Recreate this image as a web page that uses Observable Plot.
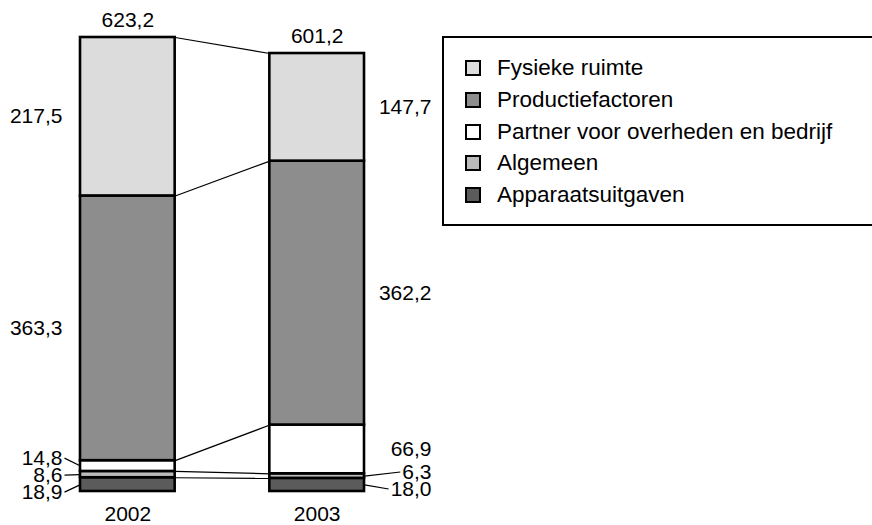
<!DOCTYPE html>
<html><head><meta charset="utf-8">
<script src="https://cdn.jsdelivr.net/npm/d3@7"></script>
<script src="https://cdn.jsdelivr.net/npm/@observablehq/plot@0.6"></script>
<style>
body{margin:0;background:#fff;}
#wrap{position:relative;width:872px;height:525px;overflow:hidden;font-family:"Liberation Sans",Arial,sans-serif;}
#legend{position:absolute;left:442px;top:36px;width:460px;height:190px;box-sizing:border-box;border:2.5px solid #000;background:#fff;}
.row{position:absolute;left:0;height:32px;display:flex;align-items:center;font-size:22.5px;color:#000;white-space:nowrap;}
.sw{width:12px;height:12px;border:2px solid #000;margin-left:21px;margin-right:16px;}
</style></head>
<body><div id="wrap"><div id="chart"></div><div id="legend"></div></div>
<script>
const years = ["2002", "2003"];
const categories = ["Apparaatsuitgaven", "Algemeen", "Partner voor overheden en bedrijf", "Productiefactoren", "Fysieke ruimte"];
const values2002 = [18.9, 8.6, 14.8, 363.3, 217.5];
const values2003 = [18.0, 6.3, 66.9, 362.2, 147.7];
const totals = [623.2, 601.2];
const colors = ["#5b5b5b", "#bbbbbb", "#ffffff", "#8d8d8d", "#dcdcdc"];

const fmt = v => v.toFixed(1).replace(".", ",");
const FONT = '"Liberation Sans", Arial, sans-serif';
const FS = 21;
const W = 872, H = 525, mL = 80, mR = 508, mT = 37, mB = 34;
const series = [values2002, values2003];
const yMax = d3.max(series, s => d3.sum(s));
const ky = (H - mT - mB) / yMax;           // px per y unit
const kx = (W - mL - mR) / 3;              // px per x unit
const ctx = document.createElement("canvas").getContext("2d");
ctx.font = FS + "px " + FONT;
const textW = t => ctx.measureText(t).width;
const DX = [-18, 67];                      // label offsets from bar edges (both right-aligned)

const rows = [], links = [], labels = [], leaders = [];
series.forEach((vals, i) => {
  let acc = 0;
  const segs = vals.map((v, j) => {
    const r = {year: years[i], cat: categories[j], x1: 2 * i, x2: 2 * i + 1, y1: acc, y2: acc + v, v};
    acc += v;
    rows.push(r);
    return r;
  });
  // label placement: start at segment middle, push apart to min 17px gap
  const pos = segs.map(s => (s.y1 + s.y2) / 2);
  const gap = 17 / ky;
  for (let it = 0; it < 50; it++) {
    for (let j = 0; j < pos.length - 1; j++) {
      const d = pos[j + 1] - pos[j];
      if (d < gap) { const m = (gap - d) / 2; pos[j] -= m; pos[j + 1] += m; }
    }
  }
  segs.forEach((s, j) => {
    const small = (s.y2 - s.y1) * ky < 20;
    const edge = i === 0 ? 0 : 3;
    const text = fmt(s.v);
    labels.push({x: edge, y: pos[j], text, side: i});
    if (small) {
      const mid = (s.y1 + s.y2) / 2;
      const endPx = i === 0 ? DX[0] + 2 : DX[1] - textW(text) - 2;
      leaders.push({x1: edge, y1: mid, x2: edge + endPx / kx, y2: pos[j]});
    }
  });
});
categories.forEach((c) => {
  const a = rows.find(r => r.year === years[0] && r.cat === c);
  const b = rows.find(r => r.year === years[1] && r.cat === c);
  links.push({y1: a.y2, y2: b.y2});
});
const tops = years.map((y, i) => ({x: 2 * i + 0.5, y: d3.sum(series[i]), text: fmt(totals[i])}));
const yearLabels = years.map((y, i) => ({x: 2 * i + 0.5, text: y}));

const chart = Plot.plot({
  width: W, height: H,
  marginLeft: mL, marginRight: mR, marginTop: mT, marginBottom: mB,
  style: {fontFamily: FONT, fontSize: FS + "px", background: "#fff"},
  x: {domain: [0, 3], axis: null},
  y: {domain: [0, yMax], axis: null},
  color: {domain: categories, range: colors},
  marks: [
    Plot.link(links, {x1: () => 1, x2: () => 2, y1: "y1", y2: "y2", stroke: "#000", strokeWidth: 1.2}),
    Plot.link(leaders, {x1: "x1", y1: "y1", x2: "x2", y2: "y2", stroke: "#000", strokeWidth: 1.2}),
    Plot.rect(rows, {x1: "x1", x2: "x2", y1: "y1", y2: "y2", fill: "cat", stroke: "#000", strokeWidth: 2.6}),
    Plot.text(labels.filter(d => d.side === 0), {x: "x", y: "y", text: "text", textAnchor: "end", dx: DX[0], fill: "#000", fontSize: FS}),
    Plot.text(labels.filter(d => d.side === 1), {x: "x", y: "y", text: "text", textAnchor: "end", dx: DX[1], fill: "#000", fontSize: FS}),
    Plot.text(tops, {x: "x", y: "y", text: "text", dy: -17, fill: "#000", fontSize: FS}),
    Plot.text(yearLabels, {x: "x", y: () => 0, text: "text", dy: 23, fill: "#000", fontSize: FS})
  ]
});
document.getElementById("chart").appendChild(chart);

const legend = document.getElementById("legend");
[...categories].reverse().forEach((c, k) => {
  const row = document.createElement("div");
  row.className = "row";
  row.style.top = (14 + k * 31.8) + "px";
  const sw = document.createElement("span");
  sw.className = "sw";
  sw.style.background = colors[categories.indexOf(c)];
  row.appendChild(sw);
  row.appendChild(document.createTextNode(c));
  legend.appendChild(row);
});
</script></body></html>
